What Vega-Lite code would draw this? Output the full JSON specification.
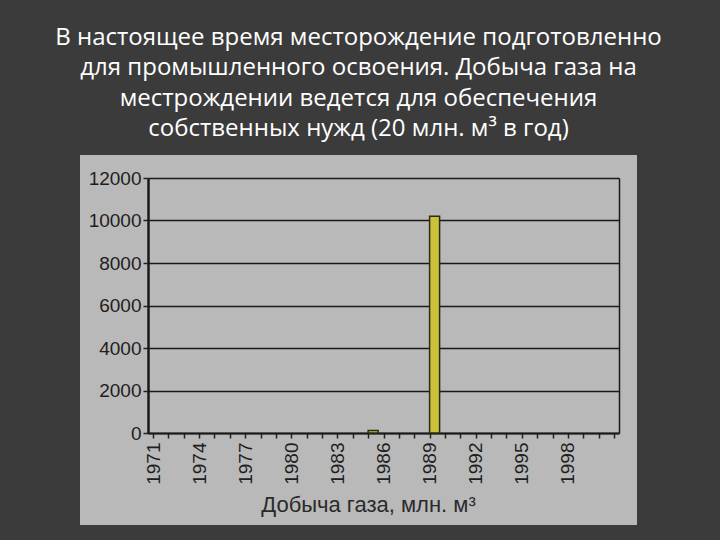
{
  "$schema": "https://vega.github.io/schema/vega-lite/v6.json",
  "width": 557,
  "height": 370,
  "autosize": "none",
  "padding": {"left": 80, "top": 155, "right": 83, "bottom": 15},
  "background": "#3b3b3b",
  "config": {
    "view": {"fill": "#b9b9b9", "stroke": null},
    "font": "Liberation Sans"
  },
  "title": {
    "text": [
      "В настоящее время месторождение подготовленно",
      "для промышленного освоения. Добыча газа на",
      "местрождении ведется для обеспечения",
      "собственных нужд (20 млн. м³ в год)"
    ],
    "color": "#ffffff",
    "font": "Open Sans",
    "fontSize": 24,
    "fontWeight": "normal",
    "lineHeight": 30.5,
    "anchor": "middle",
    "frame": "group",
    "offset": 14
  },
  "data": {
    "values": [
      {"year": 1985, "gas": 120},
      {"year": 1989, "gas": 10200}
    ]
  },
  "resolve": {"axis": {"y": "independent"}},
  "layer": [
    {
      "mark": {
        "type": "bar",
        "size": 10,
        "xOffset": 5,
        "fill": "#c9c23a",
        "stroke": "#2b2b1a",
        "strokeWidth": 1.5
      },
      "encoding": {
        "x": {
          "field": "year",
          "type": "quantitative",
          "scale": {"domain": [1971, 2001], "range": [68, 539], "nice": false, "zero": false},
          "axis": {
            "orient": "bottom",
            "offset": -92,
            "values": [1971,1972,1973,1974,1975,1976,1977,1978,1979,1980,1981,1982,1983,1984,1985,1986,1987,1988,1989,1990,1991,1992,1993,1994,1995,1996,1997,1998,1999,2000,2001],
            "labelExpr": "((datum.value - 1971) % 3 == 0 && datum.value <= 1998) ? datum.value : ''",
            "format": "d",
            "labelAngle": -90,
            "labelFontSize": 19,
            "labelColor": "#1e1e1e",
            "labelPadding": 4,
            "labelFlush": false,
            "labelOverlap": false,
            "tickSize": 5,
            "tickColor": "#222222",
            "tickWidth": 1.5,
            "domainColor": "#1a1a1a",
            "domainWidth": 2,
            "grid": false,
            "title": "Добыча газа, млн. м³",
            "titleFontSize": 22,
            "titleFontWeight": "normal",
            "titleColor": "#2a2a2a",
            "titleX": 288,
            "titleY": 61
          }
        },
        "y": {
          "field": "gas",
          "type": "quantitative",
          "scale": {"domain": [0, 12000], "range": [278, 23], "nice": false},
          "axis": {
            "orient": "left",
            "offset": -68,
            "values": [0, 2000, 4000, 6000, 8000, 10000, 12000],
            "format": "d",
            "labelFontSize": 19,
            "labelColor": "#1e1e1e",
            "labelPadding": 2,
            "tickSize": 5,
            "tickColor": "#222222",
            "tickWidth": 1.5,
            "domainColor": "#1a1a1a",
            "domainWidth": 2.5,
            "grid": true,
            "gridColor": "#1a1a1a",
            "gridWidth": 1.3,
            "gridOpacity": 1,
            "title": null
          }
        }
      }
    },
    {
      "mark": {"type": "rule", "opacity": 0},
      "encoding": {
        "y": {
          "field": "gas",
          "type": "quantitative",
          "axis": {
            "orient": "right",
            "offset": -18,
            "labels": false,
            "ticks": false,
            "grid": false,
            "domainColor": "#1a1a1a",
            "domainWidth": 1.5,
            "title": null
          }
        }
      }
    }
  ]
}
